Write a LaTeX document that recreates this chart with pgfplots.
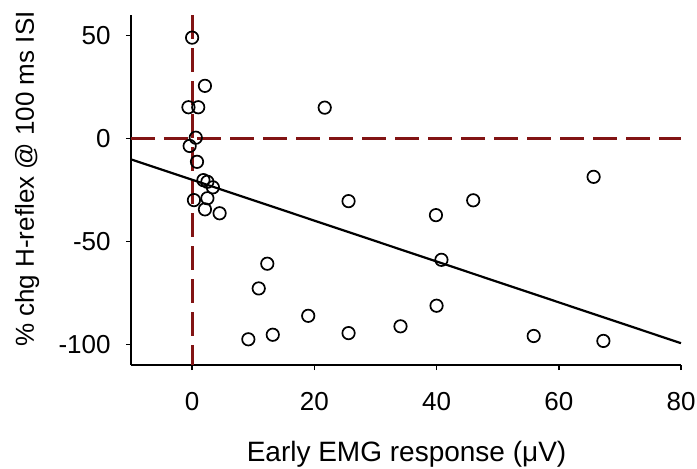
\documentclass[border=0pt]{standalone}
\usepackage{fontspec}
\setmainfont{Liberation Sans}
\usepackage{pgfplots}
\pgfplotsset{compat=1.18}
\definecolor{dred}{RGB}{130,20,20}
\begin{document}
\begin{tikzpicture}
\begin{axis}[
  scale only axis, width=275pt, height=175pt,
  xmin=-10, xmax=80, ymin=-110, ymax=60,
  axis lines=left, axis line style={-, line width=0.8pt},
  xtick={0,20,40,60,80}, ytick={-100,-50,0,50},
  tick align=outside, major tick length=2.5pt,
  tick style={black, line width=0.8pt},
  /pgf/number format/assume math mode=true,
  ticklabel style={font=\fontsize{13}{15}\selectfont, inner sep=0pt},
  xticklabel style={anchor=north, yshift=-11pt},
  yticklabel style={anchor=east, xshift=-7.5pt},
  xlabel={Early EMG response (μV)},
  ylabel={\% chg H-reflex @ 100 ms ISI},
  xlabel style={font=\fontsize{14}{16}\selectfont, at={(rel axis cs:0.501,-0.2743)}, anchor=base, inner sep=0pt},
  ylabel style={font=\fontsize{13}{15}\selectfont, at={(rel axis cs:-0.1764,0.531)}, anchor=base, inner sep=0pt},
  clip=false,
]
\addplot[dred, line width=1.4pt, dash pattern=on 12pt off 4.5pt] coordinates {(-10,0) (80,0)};
\addplot[dred, line width=1.4pt, dash pattern=on 12pt off 4.5pt] coordinates {(0,60) (0,-110)};
\addplot[black, line width=1.1pt] coordinates {(-10,-10.1) (80,-99.4)};
\addplot[only marks, mark=o, mark size=3.1pt, mark options={black, line width=0.85pt}] coordinates {
(0,49.0) (2.1,25.6) (-0.6,15.2) (1.0,15.2) (0.6,0.4) (-0.4,-3.6) (0.8,-11.3)
(1.85,-20.2) (2.5,-21.0) (3.4,-23.7) (0.3,-29.9) (2.5,-29.0) (2.1,-34.4) (4.5,-36.3)
(21.7,15.0) (25.6,-30.4) (46.0,-30.0) (39.9,-37.2) (40.8,-58.9) (65.7,-18.6)
(12.3,-60.8) (10.9,-72.8) (19.0,-86.1) (40.0,-81.2) (34.1,-91.2) (25.6,-94.5)
(13.2,-95.3) (9.2,-97.5) (55.9,-95.9) (67.3,-98.3)
};
\coordinate (bl) at (rel axis cs:-0.23818,-0.29429);
\coordinate (tr) at (rel axis cs:1.02909,1.042857);
\end{axis}
\pgfresetboundingbox
\path (bl) rectangle (tr);
\end{tikzpicture}
\end{document}
